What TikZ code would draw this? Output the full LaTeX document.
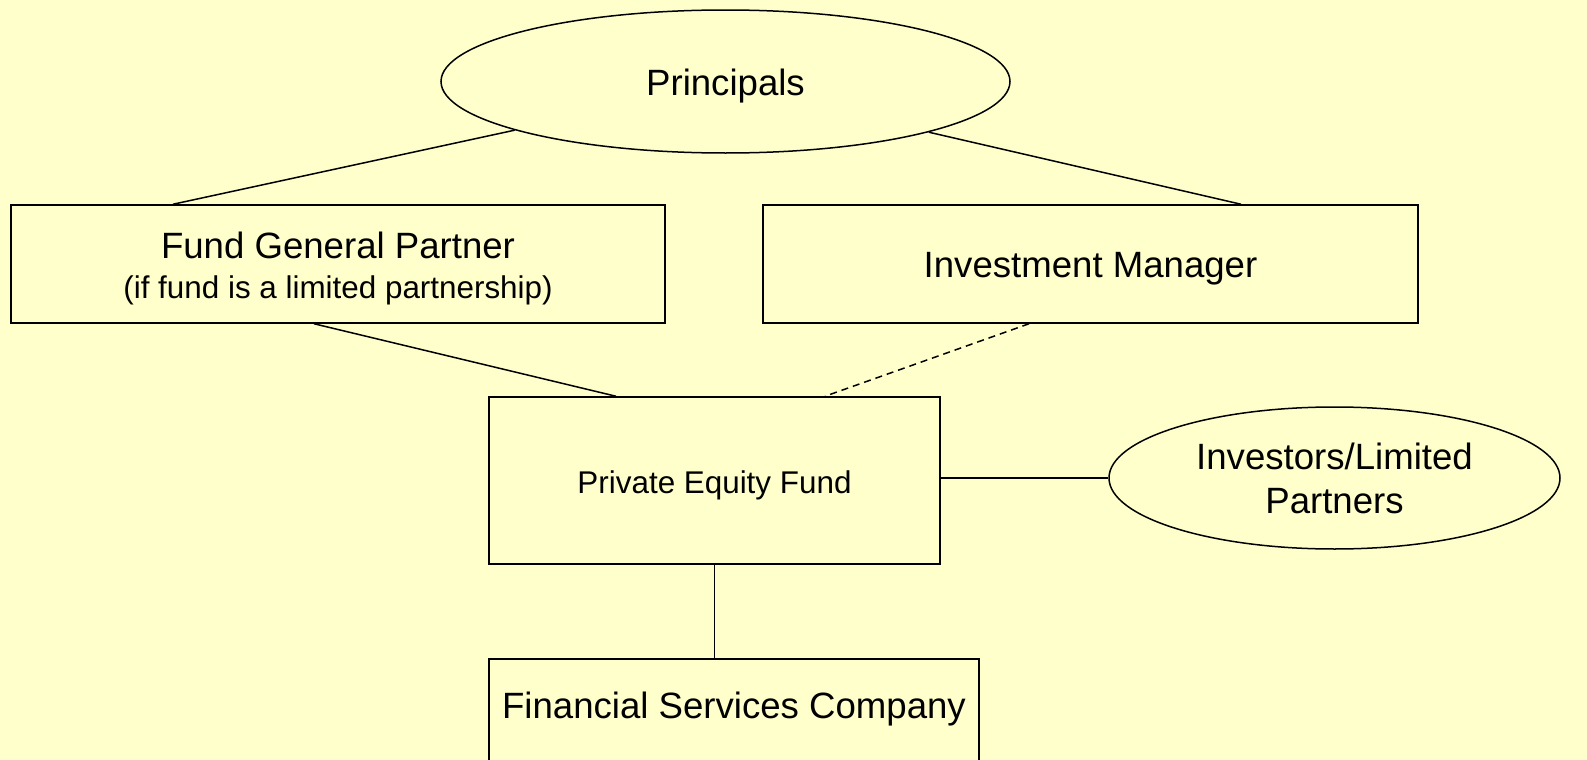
\documentclass[tikz,border=0pt]{standalone}
\usepackage{fontspec}
\setmainfont{Liberation Sans}
\usetikzlibrary{shapes,positioning,calc}
\definecolor{bgyellow}{HTML}{FFFFCC}
\tikzset{
    box/.style={draw, line width=0.75pt, inner sep=0pt, align=center},
    oval/.style={draw, ellipse, line width=0.75pt, inner sep=0pt, align=center},
    link/.style={line width=0.75pt},
    small/.style={font=\fontsize{15.7}{19}\selectfont}
}

\begin{document}
\begin{tikzpicture}[x=0.5pt,y=-0.5pt,font=\fontsize{18.3}{22}\selectfont]
    \useasboundingbox (0,0) rectangle (1587,760);
    \fill[bgyellow] (0,0) rectangle (1587,760);
    \clip (0,0) rectangle (1587,760);

    \node[oval, minimum width=284.5pt, minimum height=71.5pt, text height=17.5pt] (prin) at (725.5,81.5) {Principals};
    \node[box, minimum width=327pt, minimum height=59pt, text height=37.5pt] (fgp) at (338,264)
        {Fund General Partner\\[-2pt]{\fontsize{15.7}{19}\selectfont (if fund is a limited partnership)}};
    \node[box, minimum width=327.5pt, minimum height=59pt, text height=17.5pt] (im) at (1090.5,264) {Investment Manager};
    \node[box, small, minimum width=225.5pt, minimum height=83.5pt, text height=16.5pt] (pef) at (714.5,480.5) {Private Equity Fund};
    \node[oval, minimum width=225.5pt, minimum height=71pt] (inv) at (1334.5,478) {Investors/Limited\\Partners};
    \node[box, anchor=north, minimum width=245pt, minimum height=60pt, text depth=14pt] (fsc) at (734,658)
        {Financial Services Company};

    % ownership
    \draw[link] (prin.193.8) -- ([xshift=-82.5pt]fgp.north);
    \draw[link] (prin.346.3) -- ([xshift=75.25pt]im.north);
    \draw[link] ([xshift=-12pt]fgp.south) -- ([xshift=-49.25pt]pef.north);
    \draw[link, dash pattern=on 3.5pt off 2.5pt] ([xshift=-30.75pt]im.south) -- ([xshift=55.25pt]pef.north);
    \draw[link] (pef.east |- inv.west) -- (inv.west);
    \draw[link] (pef.south) -- (pef.south |- fsc.north);
\end{tikzpicture}
\end{document}
